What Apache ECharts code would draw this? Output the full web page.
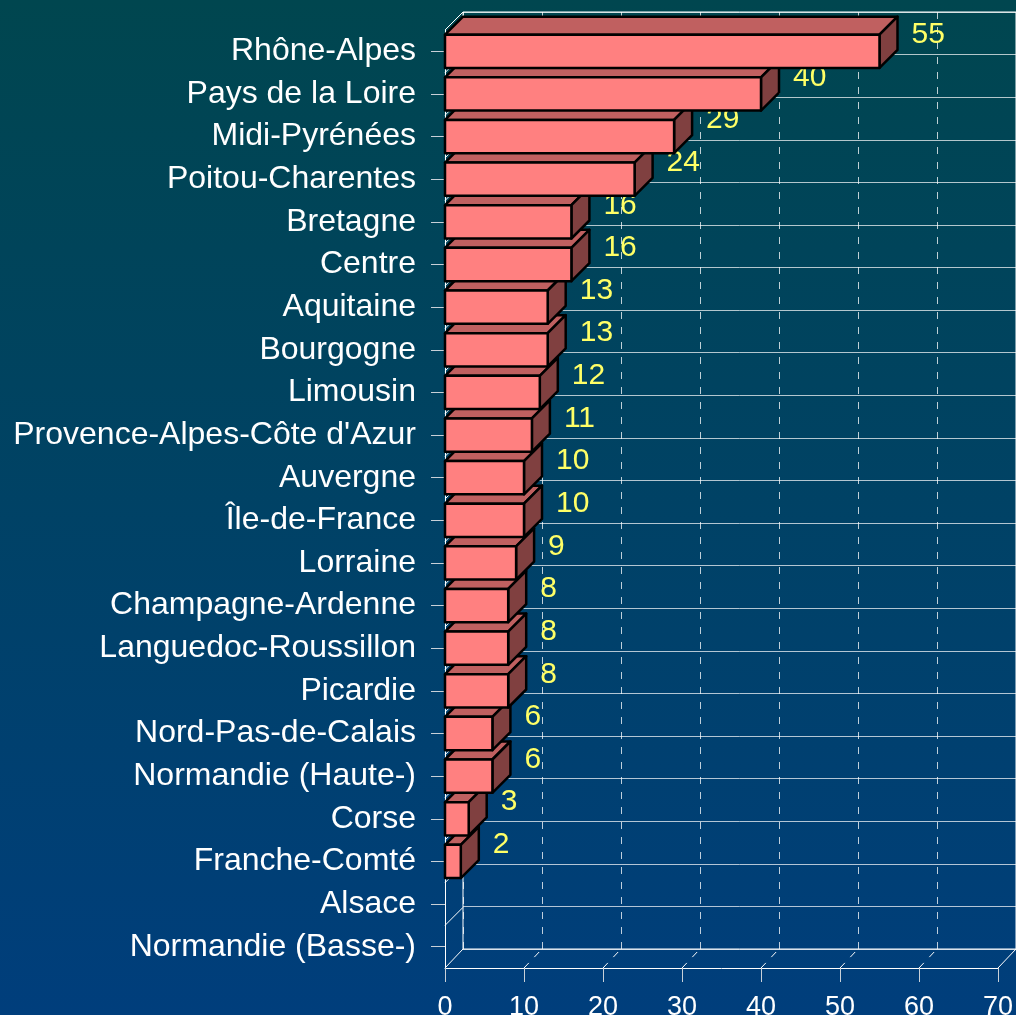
<!DOCTYPE html>
<html>
<head>
<meta charset="utf-8">
<script src="https://cdn.jsdelivr.net/npm/echarts@6/dist/echarts.min.js"></script>
<style>
  html, body { margin: 0; padding: 0; }
  #chart { width: 1016px; height: 1015px; }
</style>
</head>
<body>
<div id="chart"></div>
<script>
const regions = [
  'Rhône-Alpes', 'Pays de la Loire', 'Midi-Pyrénées', 'Poitou-Charentes',
  'Bretagne', 'Centre', 'Aquitaine', 'Bourgogne', 'Limousin',
  "Provence-Alpes-Côte d'Azur", 'Auvergne', 'Île-de-France', 'Lorraine',
  'Champagne-Ardenne', 'Languedoc-Roussillon', 'Picardie', 'Nord-Pas-de-Calais',
  'Normandie (Haute-)', 'Corse', 'Franche-Comté', 'Alsace', 'Normandie (Basse-)'
]
const counts = [55, 40, 29, 24, 16, 16, 13, 13, 12, 11, 10, 10, 9, 8, 8, 8, 6, 6, 3, 2, 0, 0]
const xTicks = [0, 10, 20, 30, 40, 50, 60, 70]

// depth of the fake 3d box
const DX = 18
const DY = 18
const FONT = 'Liberation Sans, Arial, sans-serif'

const chart = echarts.init(document.getElementById('chart'))

const renderBar = (params, api) => {
  const v = api.value(0)
  const idx = api.value(1)
  if (!v) return null
  const p0 = api.coord([0, idx])
  const p1 = api.coord([v, idx])
  const h = api.size([0, 1])[1] * 0.78
  const x0 = p0[0]
  const x1 = p1[0]
  const yt = p0[1] - h / 2
  const yb = p0[1] + h / 2
  // upper bars are painted over the lower ones
  const z = (regions.length - idx) * 10
  const line = { stroke: '#000', lineWidth: 2.5, lineJoin: 'round' }
  return {
    type: 'group',
    children: [
      {
        type: 'polygon', z2: z,
        shape: { points: [[x0, yt], [x0 + DX, yt - DY], [x1 + DX, yt - DY], [x1, yt]] },
        style: Object.assign({ fill: '#c06060' }, line)
      },
      {
        type: 'polygon', z2: z,
        shape: { points: [[x1, yt], [x1 + DX, yt - DY], [x1 + DX, yb - DY], [x1, yb]] },
        style: Object.assign({ fill: '#804040' }, line)
      },
      {
        type: 'rect', z2: z,
        shape: { x: x0, y: yt, width: x1 - x0, height: h },
        style: Object.assign({ fill: '#ff8080' }, line)
      },
      {
        type: 'text', z2: z + 1,
        style: {
          text: String(v), x: x1 + DX + 14, y: yt,
          fill: '#ffff66', fontSize: 30, fontFamily: FONT,
          align: 'left', verticalAlign: 'middle'
        }
      }
    ]
  }
}

// diagonals of the left wall, one per category boundary
const renderWall = (params, api) => {
  const idx = api.value(1)
  const p = api.coord([0, idx])
  const y = p[1] - api.size([0, 1])[1] / 2
  return {
    type: 'line',
    shape: { x1: p[0], y1: y, x2: p[0] + DX, y2: y - DY },
    style: { stroke: '#fff', lineWidth: 1 }
  }
}

// diagonals of the floor, one per value tick
const renderFloor = (params, api) => {
  const v = api.value(0)
  const x = api.coord([v, 0])[0]
  const y = params.coordSys.y + params.coordSys.height
  const edge = v === xTicks[0] || v === xTicks[xTicks.length - 1]
  return {
    type: 'line',
    shape: { x1: x, y1: y, x2: x + DX, y2: y - DY - 1 },
    style: { stroke: '#fff', lineWidth: 1, lineDash: edge ? null : [7, 8] }
  }
}

const option = {
  animation: false,
  backgroundColor: new echarts.graphic.LinearGradient(0, 0, 0, 1, [
    { offset: 0, color: '#00464f' },
    { offset: 1, color: '#003e7c' }
  ]),
  grid: [
    { left: 445, top: 30, width: 553, height: 938, outerBoundsMode: 'none' },
    {
      left: 463, top: 12, width: 553, height: 937, outerBoundsMode: 'none',
      show: true, borderColor: '#ffffff', borderWidth: 1, backgroundColor: 'transparent'
    }
  ],
  xAxis: [
    {
      gridIndex: 0, type: 'value', min: 0, max: 70, interval: 10,
      axisLine: { show: true, lineStyle: { color: '#fff', width: 1 } },
      axisTick: { show: true, length: 14, lineStyle: { color: '#c8d0d8' } },
      axisLabel: { color: '#fff', fontSize: 27, fontFamily: FONT, margin: 26 },
      splitLine: { show: false }
    },
    {
      gridIndex: 1, type: 'value', min: 0, max: 70, interval: 10,
      axisLine: { show: false }, axisTick: { show: false }, axisLabel: { show: false },
      splitLine: { show: true, lineStyle: { color: 'rgba(255,255,255,0.75)', type: [7, 8], width: 1 } }
    }
  ],
  yAxis: [
    {
      gridIndex: 0, type: 'category', inverse: true, data: regions,
      axisLine: { show: true, lineStyle: { color: '#fff', width: 1 } },
      axisTick: { show: true, alignWithLabel: true, length: 14, lineStyle: { color: '#c8d0d8' } },
      axisLabel: {
        color: '#fff', fontSize: 32, fontFamily: FONT, margin: 29, interval: 0,
        padding: [8, 0, 0, 0]
      },
      splitLine: { show: false }
    },
    {
      gridIndex: 1, type: 'category', inverse: true, data: regions,
      axisLine: { show: false }, axisTick: { show: false }, axisLabel: { show: false },
      splitLine: { show: true, interval: 0, lineStyle: { color: 'rgba(255,255,255,0.7)', width: 1 } }
    }
  ],
  series: [
    {
      name: 'wall', type: 'custom', xAxisIndex: 0, yAxisIndex: 0, z: 1,
      renderItem: renderWall, silent: true,
      data: regions.map((r, i) => [0, i])
    },
    {
      name: 'floor', type: 'custom', xAxisIndex: 0, yAxisIndex: 0, z: 1,
      renderItem: renderFloor, silent: true,
      data: xTicks.map(v => [v, regions.length - 1])
    },
    {
      name: 'Nombre', type: 'custom', xAxisIndex: 0, yAxisIndex: 0, z: 3,
      renderItem: renderBar,
      data: counts.map((v, i) => [v, i])
    }
  ]
}

chart.setOption(option)
</script>
</body>
</html>
